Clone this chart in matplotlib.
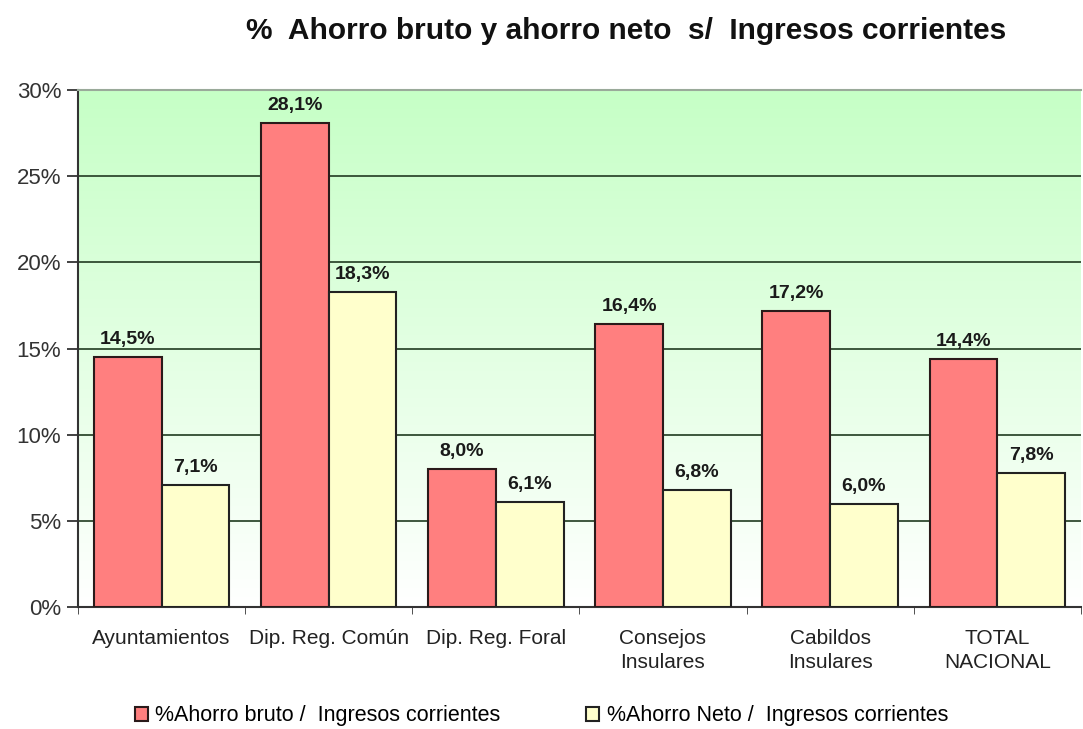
import matplotlib
matplotlib.use("Agg")
import matplotlib.pyplot as plt
import numpy as np
from matplotlib.colors import LinearSegmentedColormap
from matplotlib.ticker import FuncFormatter

categories = ["Ayuntamientos", "Dip. Reg. Común", "Dip. Reg. Foral",
              "Consejos\nInsulares", "Cabildos\nInsulares", "TOTAL\nNACIONAL"]
ahorro_bruto = [14.5, 28.1, 8.0, 16.4, 17.2, 14.4]
ahorro_neto = [7.1, 18.3, 6.1, 6.8, 6.0, 7.8]
series_names = ["%Ahorro bruto /  Ingresos corrientes", "%Ahorro Neto /  Ingresos corrientes"]
yticks = [0, 5, 10, 15, 20, 25, 30]
title = "%  Ahorro bruto y ahorro neto  s/  Ingresos corrientes"

plt.rcParams['font.family'] = ['Liberation Sans', 'DejaVu Sans']

fig = plt.figure(figsize=(10.83, 7.29), dpi=100)
ax = fig.add_axes([0.072, 0.1674, 0.926, 0.709])

# gradient background
cmap = LinearSegmentedColormap.from_list("g", ["#FFFFFF", "#C6FFC6"])
grad = np.linspace(0, 1, 256).reshape(-1, 1)
ax.imshow(grad, aspect='auto', cmap=cmap, origin='lower',
          extent=[-0.5, len(categories) - 0.5, 0, 30], zorder=0)

x = np.arange(len(categories))
w = 0.405
b1 = ax.bar(x - w / 2, ahorro_bruto, w, color="#FF7F7F", edgecolor="#2a1a1a",
            linewidth=1.5, label=series_names[0], zorder=3)
b2 = ax.bar(x + w / 2, ahorro_neto, w, color="#FFFFCC", edgecolor="#222222",
            linewidth=1.5, label=series_names[1], zorder=3)

for bars, vals in ((b1, ahorro_bruto), (b2, ahorro_neto)):
    for r, v in zip(bars, vals):
        ax.annotate(f"{v:.1f}%".replace(".", ","),
                    (r.get_x() + r.get_width() / 2, v),
                    xytext=(0, 6.5), textcoords="offset points",
                    ha="center", va="bottom", fontsize=14, fontweight="bold",
                    color="#1a1a1a", zorder=5)

ax.set_xlim(-0.5, len(categories) - 0.5)
ax.set_ylim(0, 30)
ax.set_yticks(yticks)
ax.yaxis.set_major_formatter(FuncFormatter(lambda v, p: f"{v:.0f}%"))
ax.yaxis.grid(True, color="#2f4a2f", linewidth=1.3, zorder=1)
ax.set_axisbelow(True)

ax.set_xticks(x)
ax.set_xticklabels(categories, fontsize=15, color="#222222", linespacing=1.3)
ax.tick_params(axis='x', length=0, pad=16)
ax.set_xticks(np.arange(len(categories) + 1) - 0.5, minor=True)
ax.tick_params(axis='x', which='minor', length=5, direction='out', color="#333333")
ax.tick_params(axis='y', labelsize=16, length=8, width=1.3, color="#333333",
               labelcolor="#333333", pad=4)

ax.spines["right"].set_visible(False)
ax.spines["top"].set_color("#9aaa9a")
ax.spines["top"].set_linewidth(1.5)
for s in ("left", "bottom"):
    ax.spines[s].set_color("#333333")
    ax.spines[s].set_linewidth(1.5)

fig.text(0.578, 0.958, title, ha="center", va="center", fontsize=21.5,
         fontweight="bold", color="#111111")

fig.legend(handles=[b1, b2], loc="center", bbox_to_anchor=(0.500, 0.018),
           ncol=2, frameon=False, fontsize=15.5, handlelength=0.6,
           handleheight=0.6, handletextpad=0.35, columnspacing=4.0)

fig.savefig("out.png", dpi=100)
